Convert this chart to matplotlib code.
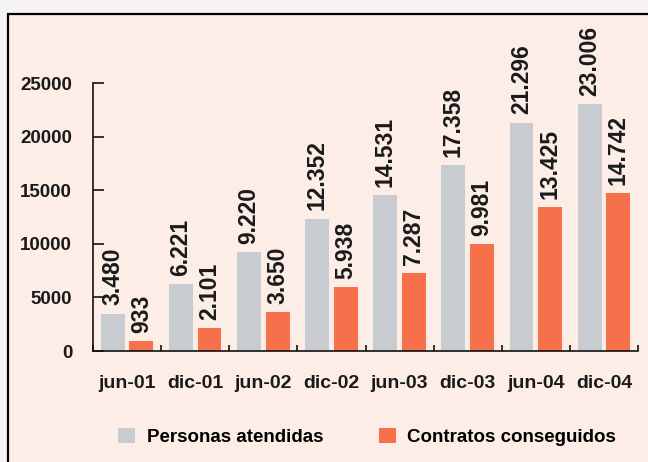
import matplotlib
matplotlib.use('Agg')
import matplotlib.pyplot as plt
import numpy as np
from matplotlib.patches import Rectangle, Patch

plt.rcParams['font.family'] = ['Liberation Sans', 'DejaVu Sans']
plt.rcParams['font.weight'] = 'bold'

# Data
periods = ['jun-01', 'dic-01', 'jun-02', 'dic-02', 'jun-03', 'dic-03', 'jun-04', 'dic-04']
personas = [3480, 6221, 9220, 12352, 14531, 17358, 21296, 23006]
contratos = [933, 2101, 3650, 5938, 7287, 9981, 13425, 14742]
yticks = [0, 5000, 10000, 15000, 20000, 25000]

gray = '#c8ccd1'
orange = '#f6704b'
pink = '#fcede7'

fig = plt.figure(figsize=(6.48, 4.62), dpi=100, facecolor='#f6f4f3')

# pink panel with black frame
fig.patches.append(Rectangle((8 / 648, -0.05), 1.1, 1.05 - 14 / 462,
                             transform=fig.transFigure, facecolor=pink,
                             edgecolor='black', linewidth=1.6, zorder=-10))

ax = fig.add_axes([93 / 648, 1 - 351 / 462, (638 - 93) / 648, (351 - 83) / 462])
ax.set_facecolor('none')
ax.set_zorder(5)

x = np.arange(len(periods))
w = 0.35
b1 = ax.bar(x + 0.29, personas, w, color=gray, label='Personas atendidas')
b2 = ax.bar(x + 0.71, contratos, w, color=orange, label='Contratos conseguidos')


def fmt(v):
    return f'{v:,}'.replace(',', '.')


for bars, vals in [(b1, personas), (b2, contratos)]:
    for rect, v in zip(bars, vals):
        ax.annotate(fmt(v), (rect.get_x() + rect.get_width() / 2, v),
                    xytext=(0, 6), textcoords='offset points',
                    rotation=90, ha='center', va='bottom',
                    fontsize=16.5, fontweight='bold', color='#1a1a1a',
                    annotation_clip=False)

ax.set_xlim(0, len(periods))
ax.set_ylim(0, 25000)

ax.set_xticks(x + 0.5)
ax.set_xticklabels(periods)
ax.set_xticks(np.arange(len(periods) + 1), minor=True)
ax.tick_params(axis='x', which='major', length=0, pad=17, labelsize=14, labelcolor='#1a1a1a')
ax.tick_params(axis='x', which='minor', direction='in', length=4, width=1.1)

ax.set_yticks(yticks)
ax.set_yticklabels([str(t) for t in yticks])
ax.tick_params(axis='y', direction='in', length=8, width=1.1, pad=15, labelsize=13.5, labelcolor='#1a1a1a')

for s in ['top', 'right']:
    ax.spines[s].set_visible(False)
for s in ['left', 'bottom']:
    ax.spines[s].set_linewidth(1.2)
    ax.spines[s].set_color('#111111')

handles = [Patch(facecolor=gray, label='Personas atendidas'),
           Patch(facecolor=orange, label='Contratos conseguidos')]
fig.legend(handles=handles, loc='center', bbox_to_anchor=(0.567, 0.054), ncol=2,
           frameon=False, fontsize=13.5, handlelength=0.9, handleheight=0.9,
           handletextpad=0.6, columnspacing=3.0)

fig.savefig('out.png', dpi=100, facecolor=fig.get_facecolor())
